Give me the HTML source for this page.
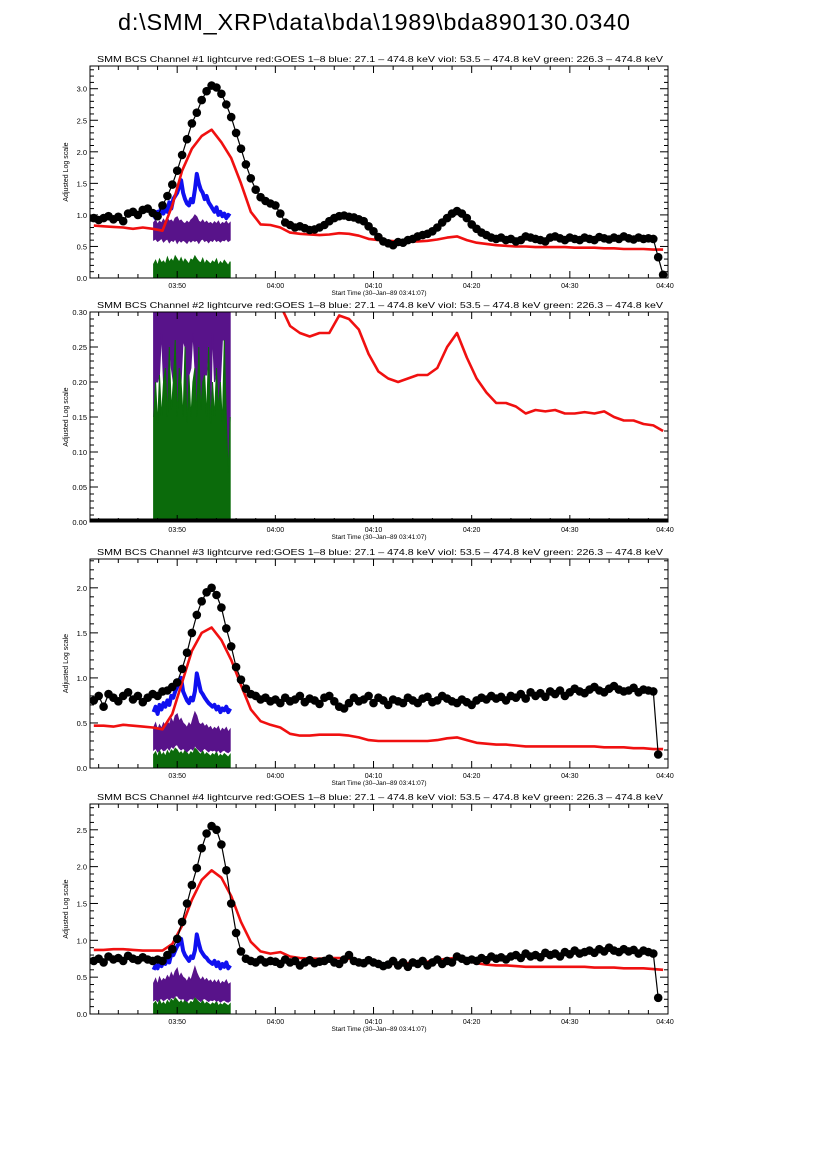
<!DOCTYPE html>
<html><head><meta charset="utf-8">
<style>
html,body{margin:0;padding:0;background:#fff;}
svg{display:block;font-family:"Liberation Sans",sans-serif;}
</style></head>
<body>
<svg id="chart" width="826" height="1169" viewBox="0 0 826 1169" xmlns="http://www.w3.org/2000/svg">
<rect width="826" height="1169" fill="#fff"/>
<text x="374" y="30" font-size="23.5" text-anchor="middle" textLength="512">d:\SMM_XRP\data\bda\1989\bda890130.0340</text>
</svg>
<script>
// ---- time grid (minutes after 03:40) ----
const tStartBlack = 1.5, tStepBlack = 0.5;
const tStartRed = 1.5, tStepRed = 1.0;
const tStartBand = 7.6, tStepBand = 0.2;
const xTickLabels = ["03:50","04:00","04:10","04:20","04:30","04:40"];
const xTickTimes = [10,20,30,40,50,60];

// ---- Panel 1 ----
const p1Black = [0.95,0.92,0.95,0.98,0.93,0.97,0.9,1.02,1.05,1.0,1.08,1.1,1.03,
0.98,1.15,1.3,1.48,1.7,1.95,2.2,2.45,2.62,2.82,2.96,3.05,3.02,2.92,2.75,2.55,2.3,2.05,1.8,1.58,1.4,1.28,1.22,1.18,
1.15,1.02,0.88,0.84,0.80,0.82,0.79,0.76,0.77,0.80,0.84,0.90,0.95,0.98,0.99,0.97,0.96,0.93,0.90,0.82,0.74,0.65,0.58,0.55,0.52,0.57,0.56,0.60,0.62,0.66,0.68,0.70,0.74,0.80,0.88,0.95,1.02,1.06,1.02,0.95,0.85,0.78,0.72,0.68,0.64,0.62,0.64,0.60,0.62,0.58,0.60,0.66,0.64,0.62,0.60,0.58,0.64,0.66,0.63,0.60,0.64,0.62,0.60,0.64,0.62,0.60,0.65,0.63,0.61,0.64,0.62,0.66,0.63,0.61,0.64,0.62,0.63,0.62,0.33,0.05];
const p1Red = [0.83,0.82,0.81,0.80,0.78,0.80,0.78,0.75,1.15,1.7,2.05,2.25,2.35,2.15,1.9,1.5,1.05,0.85,0.84,0.80,0.72,0.70,0.69,0.68,0.69,0.71,0.70,0.67,0.62,0.60,0.59,0.58,0.58,0.58,0.59,0.61,0.64,0.66,0.60,0.56,0.54,0.52,0.51,0.50,0.50,0.49,0.49,0.49,0.49,0.48,0.48,0.48,0.47,0.47,0.46,0.46,0.46,0.45,0.45];
const p1Blue = [1.0,0.95,1.05,1.0,1.15,1.02,1.1,1.05,1.2,1.1,1.25,1.3,1.35,1.45,1.55,1.35,1.25,1.18,1.15,1.25,1.2,1.4,1.65,1.5,1.4,1.35,1.25,1.3,1.2,1.15,1.1,1.05,1.12,1.0,1.05,0.98,1.02,0.95,1.0,0.98];
const p1VioHi = [0.88,0.92,0.85,0.9,0.87,0.93,0.88,0.95,0.9,0.92,0.88,0.95,0.97,0.9,0.92,0.88,0.86,0.9,0.87,0.92,0.95,1.0,0.97,0.9,0.88,0.92,0.87,0.9,0.86,0.88,0.85,0.89,0.86,0.9,0.84,0.88,0.86,0.9,0.85,0.88];
const p1VioLo = [0.6,0.62,0.58,0.6,0.63,0.57,0.6,0.62,0.56,0.6,0.58,0.62,0.55,0.6,0.57,0.6,0.58,0.55,0.6,0.57,0.6,0.58,0.6,0.55,0.6,0.62,0.58,0.6,0.56,0.6,0.58,0.62,0.58,0.6,0.57,0.6,0.59,0.62,0.58,0.6];
const p1Green = [0.22,0.28,0.2,0.3,0.24,0.27,0.22,0.33,0.25,0.3,0.26,0.35,0.3,0.25,0.32,0.24,0.3,0.26,0.22,0.3,0.28,0.35,0.3,0.26,0.24,0.31,0.22,0.28,0.25,0.22,0.27,0.24,0.3,0.2,0.26,0.22,0.28,0.24,0.2,0.26];

// ---- Panel 2 ----
const p2Red = [0.6,0.6,0.6,0.6,0.6,0.6,0.6,0.6,0.6,0.6,0.6,0.6,0.6,0.6,0.6,0.6,0.5,0.45,0.4,0.31,0.28,0.27,0.265,0.27,0.27,0.295,0.29,0.275,0.24,0.215,0.205,0.2,0.205,0.21,0.21,0.22,0.25,0.27,0.235,0.205,0.185,0.17,0.17,0.165,0.155,0.16,0.158,0.16,0.155,0.155,0.157,0.155,0.158,0.15,0.145,0.145,0.14,0.138,0.13];
const p2VioHi = [0.35,0.35,0.35,0.35,0.35,0.35,0.35,0.35,0.35,0.35,0.35,0.35,0.35,0.35,0.35,0.35,0.35,0.35,0.35,0.35,0.35,0.35,0.35,0.35,0.35,0.35,0.35,0.35,0.35,0.35,0.35,0.35,0.35,0.35,0.35,0.35,0.35,0.35,0.35,0.35];
const p2VioLo = [0.15,0.2,0.2,0.21,0.27,0.2,0.22,0.15,0.25,0.22,0.2,0.26,0.15,0.22,0.2,0.26,0.25,0.14,0.21,0.22,0.27,0.22,0.15,0.25,0.16,0.2,0.21,0.21,0.25,0.14,0.27,0.2,0.22,0.16,0.2,0.26,0.26,0.15,0.07,0.15];
const p2Green = [0.15,0.2,0.14,0.21,0.15,0.2,0.22,0.15,0.25,0.16,0.2,0.26,0.15,0.22,0.2,0.15,0.25,0.14,0.21,0.15,0.2,0.22,0.15,0.25,0.16,0.2,0.21,0.15,0.25,0.14,0.2,0.15,0.22,0.16,0.2,0.14,0.26,0.15,0.07,0.15];

// ---- Panel 3 ----
const p3Black = [0.75,0.8,0.68,0.82,0.78,0.74,0.8,0.84,0.76,0.8,0.73,0.78,0.82,
0.8,0.85,0.86,0.9,0.95,1.1,1.28,1.5,1.7,1.85,1.95,2.0,1.92,1.78,1.55,1.35,1.12,0.98,0.88,0.82,0.8,0.76,0.78,0.74,
0.76,0.72,0.78,0.74,0.76,0.8,0.73,0.77,0.75,0.71,0.78,0.8,0.74,0.68,0.66,0.72,0.78,0.74,0.76,0.8,0.72,0.78,0.75,0.7,0.76,0.74,0.72,0.78,0.75,0.72,0.77,0.79,0.73,0.75,0.8,0.77,0.74,0.72,0.76,0.73,0.7,0.75,0.78,0.76,0.8,0.77,0.79,0.75,0.8,0.78,0.82,0.77,0.84,0.8,0.83,0.79,0.85,0.82,0.86,0.8,0.84,0.88,0.85,0.83,0.87,0.9,0.86,0.84,0.88,0.91,0.87,0.85,0.86,0.89,0.84,0.87,0.86,0.85,0.15];
const p3Red = [0.47,0.47,0.46,0.48,0.47,0.46,0.45,0.43,0.6,0.95,1.3,1.5,1.56,1.42,1.2,0.92,0.65,0.52,0.48,0.45,0.38,0.36,0.36,0.37,0.37,0.37,0.36,0.34,0.31,0.3,0.3,0.3,0.3,0.3,0.3,0.31,0.33,0.34,0.31,0.28,0.27,0.26,0.26,0.25,0.24,0.24,0.24,0.24,0.24,0.24,0.24,0.24,0.23,0.23,0.23,0.22,0.22,0.21,0.21];
const p3Blue = [0.62,0.68,0.6,0.7,0.65,0.72,0.68,0.75,0.7,0.8,0.78,0.85,0.9,0.95,1.0,0.85,0.8,0.75,0.72,0.78,0.75,0.85,1.05,0.95,0.85,0.82,0.78,0.75,0.72,0.7,0.68,0.7,0.65,0.68,0.62,0.66,0.64,0.68,0.62,0.66];
const p3VioHi = [0.45,0.5,0.42,0.48,0.44,0.5,0.46,0.52,0.48,0.55,0.5,0.58,0.6,0.52,0.55,0.5,0.48,0.45,0.5,0.47,0.55,0.62,0.58,0.5,0.48,0.5,0.46,0.48,0.44,0.46,0.42,0.45,0.43,0.46,0.4,0.44,0.42,0.45,0.4,0.43];
const p3VioLo = [0.2,0.22,0.18,0.2,0.22,0.19,0.2,0.23,0.2,0.24,0.22,0.25,0.26,0.22,0.2,0.22,0.2,0.18,0.2,0.22,0.2,0.25,0.22,0.2,0.18,0.2,0.22,0.2,0.18,0.2,0.19,0.2,0.18,0.2,0.17,0.19,0.2,0.18,0.17,0.19];
const p3Green = [0.15,0.18,0.12,0.2,0.14,0.17,0.13,0.19,0.15,0.2,0.18,0.22,0.2,0.16,0.18,0.15,0.2,0.17,0.14,0.18,0.16,0.22,0.2,0.17,0.15,0.19,0.14,0.17,0.15,0.13,0.16,0.14,0.18,0.12,0.15,0.13,0.16,0.14,0.12,0.15];

// ---- Panel 4 ----
const p4Black = [0.72,0.75,0.7,0.78,0.74,0.76,0.72,0.79,0.75,0.73,0.77,0.74,0.72,
0.74,0.72,0.8,0.88,1.02,1.25,1.5,1.75,1.98,2.25,2.45,2.55,2.5,2.3,1.95,1.5,1.1,0.85,0.75,0.72,0.7,0.74,0.7,0.72,
0.71,0.68,0.74,0.7,0.72,0.66,0.7,0.73,0.69,0.71,0.72,0.75,0.7,0.68,0.74,0.8,0.72,0.7,0.69,0.73,0.7,0.68,0.65,0.67,0.72,0.66,0.7,0.64,0.7,0.68,0.72,0.66,0.7,0.74,0.68,0.72,0.7,0.78,0.75,0.72,0.74,0.72,0.76,0.73,0.78,0.75,0.77,0.74,0.78,0.8,0.76,0.82,0.78,0.8,0.77,0.83,0.8,0.82,0.78,0.84,0.81,0.86,0.82,0.84,0.86,0.83,0.88,0.85,0.9,0.86,0.84,0.88,0.85,0.87,0.82,0.86,0.84,0.82,0.22];
const p4Red = [0.87,0.87,0.88,0.88,0.87,0.86,0.86,0.86,0.95,1.2,1.55,1.82,1.95,1.85,1.6,1.25,0.98,0.85,0.82,0.84,0.78,0.76,0.75,0.75,0.76,0.76,0.75,0.73,0.70,0.69,0.68,0.68,0.69,0.70,0.71,0.73,0.75,0.76,0.72,0.69,0.67,0.66,0.66,0.65,0.64,0.64,0.64,0.64,0.64,0.64,0.64,0.63,0.63,0.63,0.62,0.62,0.62,0.61,0.6];
const p4Blue = [0.6,0.66,0.62,0.7,0.65,0.72,0.68,0.76,0.7,0.82,0.8,0.86,0.92,0.96,1.02,0.86,0.8,0.76,0.72,0.78,0.76,0.86,1.08,0.96,0.86,0.82,0.78,0.76,0.72,0.7,0.68,0.72,0.65,0.7,0.62,0.68,0.64,0.7,0.62,0.66];
const p4VioHi = [0.42,0.48,0.4,0.5,0.44,0.48,0.46,0.52,0.48,0.56,0.5,0.58,0.62,0.5,0.55,0.5,0.48,0.44,0.5,0.46,0.55,0.64,0.56,0.5,0.46,0.5,0.45,0.48,0.44,0.46,0.42,0.46,0.42,0.46,0.4,0.44,0.42,0.46,0.4,0.42];
const p4VioLo = [0.18,0.2,0.17,0.2,0.21,0.18,0.2,0.22,0.19,0.23,0.21,0.24,0.25,0.21,0.2,0.21,0.19,0.17,0.2,0.21,0.2,0.24,0.21,0.19,0.17,0.2,0.21,0.19,0.17,0.19,0.18,0.2,0.17,0.19,0.16,0.18,0.19,0.17,0.16,0.18];
const p4Green = [0.14,0.17,0.11,0.19,0.13,0.16,0.12,0.18,0.14,0.2,0.17,0.22,0.19,0.15,0.18,0.14,0.2,0.16,0.13,0.17,0.15,0.22,0.19,0.16,0.14,0.18,0.13,0.16,0.14,0.12,0.15,0.13,0.17,0.11,0.14,0.12,0.15,0.13,0.11,0.14];

const NS = "http://www.w3.org/2000/svg";
const svg = document.getElementById("chart");
const X0 = 90, X1 = 668, T0 = 1.117, T1 = 60;
function xs(t){ return X0 + (t - T0) / (T1 - T0) * (X1 - X0); }
function mk(tag, attrs, parent){
  const e = document.createElementNS(NS, tag);
  for (const k in attrs) e.setAttribute(k, attrs[k]);
  (parent || svg).appendChild(e);
  return e;
}
const title = "lightcurve  red:GOES 1\u20138  blue: 27.1 \u2013 474.8 keV  viol: 53.5 \u2013 474.8 keV  green: 226.3 \u2013 474.8 keV";

const panels = [
 {n:1, top:66, bot:278, ymax:3.36, major:0.5, minor:0.1, fmt:1, black:p1Black, red:p1Red, blue:p1Blue, vhi:p1VioHi, vlo:p1VioLo, green:p1Green},
 {n:2, top:312, bot:522, ymax:0.30, major:0.05, minor:0.01, fmt:2, black:null, red:p2Red, blue:null, vhi:p2VioHi, vlo:p2VioLo, green:p2Green},
 {n:3, top:559, bot:768, ymax:2.32, major:0.5, minor:0.1, fmt:1, black:p3Black, red:p3Red, blue:p3Blue, vhi:p3VioHi, vlo:p3VioLo, green:p3Green},
 {n:4, top:804, bot:1014, ymax:2.85, major:0.5, minor:0.1, fmt:1, black:p4Black, red:p4Red, blue:p4Blue, vhi:p4VioHi, vlo:p4VioLo, green:p4Green}
];

function greenPath(arr, ys){
  let d = "M" + xs(tStartBand).toFixed(1) + "," + ys(0).toFixed(1);
  arr.forEach((v,i)=>{ d += " L" + xs(tStartBand + i*tStepBand).toFixed(1) + "," + ys(v).toFixed(1); });
  d += " L" + xs(tStartBand + (arr.length-1)*tStepBand).toFixed(1) + "," + ys(0).toFixed(1) + " Z";
  return d;
}

panels.forEach(p => {
  const g = mk("g", {});
  
  
  const ys = v => p.bot - v / p.ymax * (p.bot - p.top);
  const clipId = "clip" + p.n;
  const cp = mk("clipPath", {id: clipId}, g);
  mk("rect", {x: X0, y: p.top, width: X1 - X0, height: p.bot - p.top}, cp);
  const data = mk("g", {"clip-path": "url(#" + clipId + ")"}, g);

  if (p.green && p.n !== 2) {
    const gr = mk("path", {d: greenPath(p.green, ys), fill: "#0b6b0b", stroke: "#0b6b0b", "stroke-width": 1}, data);
    
    
  }
  if (p.vhi) {
    let d = "";
    p.vhi.forEach((v,i)=>{ d += (i? " L":"M") + xs(tStartBand + i*tStepBand).toFixed(1) + "," + ys(v).toFixed(1); });
    for (let i = p.vlo.length-1; i >= 0; i--) d += " L" + xs(tStartBand + i*tStepBand).toFixed(1) + "," + ys(p.vlo[i]).toFixed(1);
    d += " Z";
    const vi = mk("path", {d: d, fill: "#58138a", stroke: "#58138a", "stroke-width": 1}, data);
    
    
  }
  if (p.n === 2) {
    const gr = mk("path", {d: greenPath(p.green, ys), fill: "#0b6b0b", stroke: "#0b6b0b", "stroke-width": 1}, data);
    
    
  }
  if (p.blue) {
    const pts = p.blue.map((v,i)=> xs(tStartBand + i*tStepBand).toFixed(1) + "," + ys(v).toFixed(1)).join(" ");
    const bl = mk("polyline", {points: pts, fill: "none", stroke: "#1010f0", "stroke-width": 4, "stroke-linejoin": "round"}, data);
    
    
  }
  {
    const pts = p.red.map((v,i)=> xs(tStartRed + i*tStepRed).toFixed(1) + "," + ys(v).toFixed(1)).join(" ");
    const rl = mk("polyline", {points: pts, fill: "none", stroke: "#f01010", "stroke-width": 2.6, "stroke-linejoin": "round"}, data);
    
    
  }
  if (p.black) {
    const pts = p.black.map((v,i)=> xs(tStartBlack + i*tStepBlack).toFixed(1) + "," + ys(v).toFixed(1)).join(" ");
    const bl = mk("polyline", {points: pts, fill: "none", stroke: "#000", "stroke-width": 1.2}, data);
    
    
    p.black.forEach((v,i)=>{
      const c = mk("circle", {cx: xs(tStartBlack + i*tStepBlack).toFixed(1), cy: ys(v).toFixed(1), r: 4.3, fill: "#000"}, data);
      
      
    });
  } else {
    const zl = mk("line", {x1: X0, x2: X1, y1: ys(0)-1.5, y2: ys(0)-1.5, stroke: "#000", "stroke-width": 4}, data);
    
    
  }

  const fr = mk("rect", {x: X0, y: p.top, width: X1 - X0, height: p.bot - p.top, fill: "none", stroke: "#000", "stroke-width": 1}, g);
  
  

  const nMinor = Math.floor(p.ymax / p.minor + 1e-6);
  for (let k = 0; k <= nMinor; k++) {
    const v = k * p.minor;
    const isMaj = Math.abs(v / p.major - Math.round(v / p.major)) < 1e-6;
    const y = ys(v);
    const L = isMaj ? 8 : 4;
    mk("line", {x1: X0, x2: X0 + L, y1: y, y2: y, stroke: "#000", "stroke-width": 1}, g);
    mk("line", {x1: X1, x2: X1 - L, y1: y, y2: y, stroke: "#000", "stroke-width": 1}, g);
    if (isMaj) {
      const t = mk("text", {x: X0 - 3, y: y + 3, "font-size": 7.5, "text-anchor": "end"}, g);
      t.textContent = v.toFixed(p.fmt);
      
      
    }
  }
  for (let m = 2; m <= 60; m += 2) {
    const x = xs(m);
    if (x < X0) continue;
    const isMaj = m % 10 === 0;
    const L = isMaj ? 7 : 4;
    mk("line", {x1: x, x2: x, y1: p.bot, y2: p.bot - L, stroke: "#000", "stroke-width": 1}, g);
    mk("line", {x1: x, x2: x, y1: p.top, y2: p.top + L, stroke: "#000", "stroke-width": 1}, g);
  }
  xTickLabels.forEach((lab,i)=>{
    const t = mk("text", {x: xs(xTickTimes[i]) - (i===5?3:0), y: p.bot + 10, "font-size": 7, "text-anchor": "middle"}, g);
    t.textContent = lab;
    
    
  });
  const xt = mk("text", {x: 379, y: p.bot + 17, "font-size": 6.5, "text-anchor": "middle"}, g);
  xt.textContent = "Start Time (30\u2013Jan\u201389 03:41:07)";
  
  
  const yt = mk("text", {x: 0, y: 0, "font-size": 7, "text-anchor": "middle", transform: "translate(68," + ((p.top+p.bot)/2) + ") rotate(-90)"}, g);
  yt.textContent = "Adjusted Log scale";
  
  
  const pt = mk("text", {x: 380, y: p.top - 4, "font-size": 8.2, "text-anchor": "middle", textLength: 566, lengthAdjust: "spacingAndGlyphs"}, g);
  pt.textContent = "SMM BCS Channel #" + p.n + " " + title;
  
  
});
</script>
</body></html>
